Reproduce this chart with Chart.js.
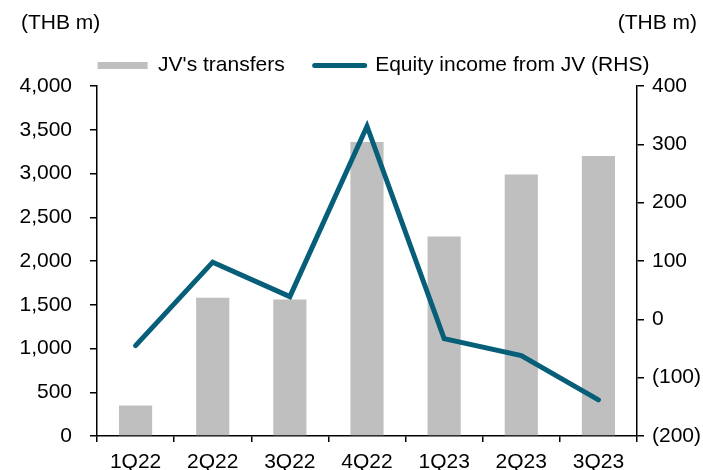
<!DOCTYPE html>
<html>
<head>
<meta charset="utf-8">
<script src="https://cdn.jsdelivr.net/npm/chart.js@4"></script>
<style>
  body { margin: 0; background: #fff; }
  #wrap { width: 703px; height: 470px; position: relative; }
</style>
</head>
<body>
<div id="wrap"><canvas id="jvChart"></canvas></div>
<script>
const quarters = ['1Q22', '2Q22', '3Q22', '4Q22', '1Q23', '2Q23', '3Q23'];
const jvTransfers = [350, 1580, 1560, 3360, 2280, 2990, 3200];
const equityIncome = [-45, 98, 39, 331, -33, -62, -138];
const leftTicks = [0, 500, 1000, 1500, 2000, 2500, 3000, 3500, 4000];
const rightTicks = [-200, -100, 0, 100, 200, 300, 400];

const barColor = '#bfbfbf';
const lineColor = '#065e78';
const fontFamily = "'Liberation Sans', Arial, sans-serif";

Chart.defaults.font.family = fontFamily;
Chart.defaults.font.size = 21;
Chart.defaults.color = '#000';

// unit labels above both axes, and nudge the legend right like the original
const unitLabels = {
    id: 'unitLabels',
    afterLayout(chart) {
        chart.legend.left += 22;
        chart.legend.right += 22;
    },
    afterDraw(chart) {
        const ctx = chart.ctx;
        ctx.save();
        ctx.font = '21px ' + fontFamily;
        ctx.fillStyle = '#000';
        ctx.textBaseline = 'middle';
        ctx.textAlign = 'left';
        ctx.fillText('(THB m)', 21, 23);
        ctx.textAlign = 'right';
        ctx.fillText('(THB m)', 697, 23);
        ctx.restore();
    }
};

const ctx = document.getElementById('jvChart').getContext('2d');
new Chart(ctx, {
    type: 'bar',
    data: {
        labels: quarters,
        datasets: [{
            label: "JV's transfers",
            data: jvTransfers,
            backgroundColor: barColor,
            categoryPercentage: 1,
            barPercentage: 0.43,
            yAxisID: 'y',
            order: 2
        }, {
            type: 'line',
            label: 'Equity income from JV (RHS)',
            data: equityIncome,
            borderColor: lineColor,
            backgroundColor: lineColor,
            borderWidth: 5,
            borderCapStyle: 'round',
            borderJoinStyle: 'miter',
            pointRadius: 0,
            tension: 0,
            yAxisID: 'y1',
            order: 1
        }]
    },
    options: {
        responsive: true,
        maintainAspectRatio: false,
        animation: false,
        layout: {
            padding: { top: 25, left: 0, right: 0, bottom: 0 }
        },
        plugins: {
            legend: {
                display: true,
                labels: {
                    usePointStyle: true,
                    pointStyleWidth: 50,
                    boxHeight: 7,
                    padding: 30,
                    font: { size: 21 },
                    generateLabels: function (chart) {
                        return [{
                            text: "JV's transfers",
                            fillStyle: barColor,
                            strokeStyle: barColor,
                            lineWidth: 0,
                            pointStyle: 'rect',
                            datasetIndex: 0
                        }, {
                            text: 'Equity income from JV (RHS)',
                            fillStyle: lineColor,
                            strokeStyle: lineColor,
                            lineWidth: 5,
                            lineCap: 'round',
                            pointStyle: 'line',
                            datasetIndex: 1
                        }];
                    }
                }
            },
            tooltip: { enabled: false }
        },
        scales: {
            x: {
                offset: true,
                grid: {
                    display: true,
                    offset: true,
                    drawOnChartArea: false,
                    drawTicks: true,
                    tickLength: 6,
                    color: '#000',
                    lineWidth: 1.5
                },
                border: { display: true, color: '#000', width: 1.5 },
                ticks: { padding: 8, maxRotation: 0 },
                afterFit: function (scale) { scale.height = 34; }
            },
            y: {
                position: 'left',
                min: 0,
                max: 4000,
                afterBuildTicks: function (scale) {
                    scale.ticks = leftTicks.map(v => ({ value: v }));
                },
                grid: {
                    drawOnChartArea: false,
                    tickLength: 7,
                    color: '#000',
                    lineWidth: 1.5
                },
                border: { display: true, color: '#000', width: 1.5 },
                ticks: {
                    padding: 18,
                    callback: v => v.toLocaleString('en-US')
                },
                afterFit: function (scale) { scale.width = 97; }
            },
            y1: {
                position: 'right',
                min: -200,
                max: 400,
                afterBuildTicks: function (scale) {
                    scale.ticks = rightTicks.map(v => ({ value: v }));
                },
                grid: {
                    drawOnChartArea: false,
                    tickLength: 7,
                    color: '#000',
                    lineWidth: 1.5
                },
                border: { display: true, color: '#000', width: 1.5 },
                ticks: {
                    padding: 8,
                    callback: v => v < 0 ? '(' + (-v) + ')' : String(v)
                },
                afterFit: function (scale) { scale.width = 66; }
            }
        }
    },
    plugins: [unitLabels]
});
</script>
</body>
</html>
